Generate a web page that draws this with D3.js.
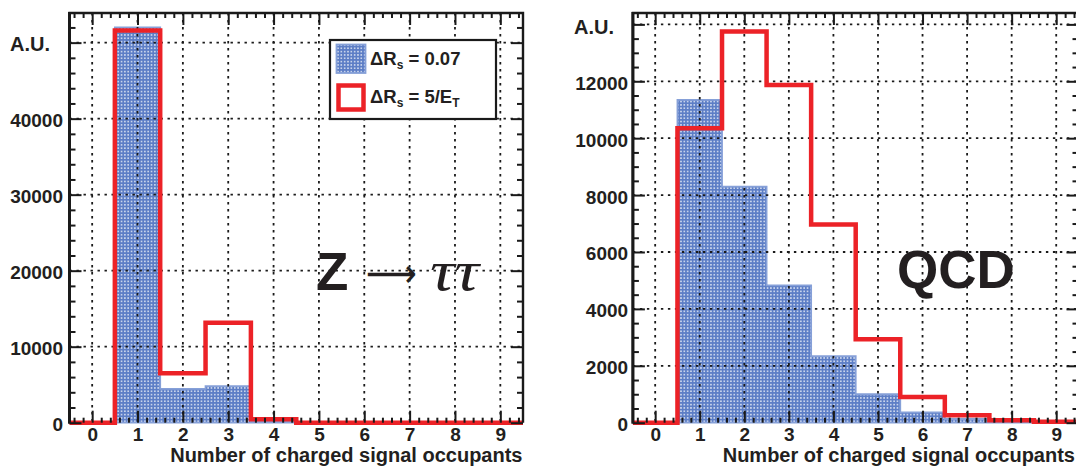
<!DOCTYPE html>
<html>
<head>
<meta charset="utf-8">
<script src="https://cdn.jsdelivr.net/npm/d3@7"></script>
<style>
  html, body { margin: 0; padding: 0; background: #fff; }
  svg { display: block; }
  text { font-family: "Liberation Sans", Arial, Helvetica, sans-serif; font-weight: bold; fill: #231f20; }
</style>
</head>
<body>
<svg id="chart" width="1076" height="466"></svg>
<script>
// Bin centres: number of charged signal-cone occupants
const occupancy = [0, 1, 2, 3, 4, 5, 6, 7, 8, 9];

// Z -> tautau sample (arbitrary units)
const zttFixedCone     = [0, 52000, 4450, 4800, 100, 0, 0, 0, 0, 0];
const zttShrinkingCone = [0, 51600, 6500, 13150, 450, 0, 0, 0, 0, 0];

// QCD sample (arbitrary units)
const qcdFixedCone     = [0, 11350, 8300, 4830, 2340, 1000, 360, 130, 15, 0];
const qcdShrinkingCone = [0, 10350, 13750, 11870, 6970, 2930, 900, 260, 85, 30];

// Axis ticks
const zttYMajor = [0, 10000, 20000, 30000, 40000, 50000];
const qcdYMajor = [0, 2000, 4000, 6000, 8000, 10000, 12000, 14000];
const xMajor = occupancy;

const legendLabels = ["0.07", "5/E"];
const xTitle = "Number of charged signal occupants";
const yTitle = "A.U.";

const RED = "#ec2227";
const BLUE_EDGE = "#86a0d8";
const BLUE_BASE = "#5d7ec6";
const INK = "#1a1a1a";

const svg = d3.select("#chart");

// Dotted fill used for the fixed-cone histogram
const defs = svg.append("defs");
const pat = defs.append("pattern")
  .attr("id", "dots")
  .attr("patternUnits", "userSpaceOnUse")
  .attr("width", 3.33).attr("height", 3.33);
pat.append("rect").attr("width", 3.33).attr("height", 3.33).attr("fill", BLUE_BASE);
pat.append("rect").attr("x", 1).attr("y", 1).attr("width", 1.35).attr("height", 1.35).attr("fill", "#ffffff");

function range(a, b, step) {
  const out = [];
  for (let v = a; v <= b + 1e-9; v += step) out.push(+v.toFixed(6));
  return out;
}

function drawPanel(opt) {
  const g = svg.append("g");
  const x = d3.scaleLinear().domain([-0.5, 9.5]).range([opt.x0, opt.x1]);
  const y = d3.scaleLinear().domain([0, opt.yMax]).range([opt.yZero, opt.yTop]);

  const clipId = "clip" + opt.id;
  defs.append("clipPath").attr("id", clipId)
    .append("rect").attr("x", opt.x0).attr("y", opt.yTop)
    .attr("width", opt.x1 - opt.x0).attr("height", opt.yZero - opt.yTop + 4);

  const steps = vals => occupancy.flatMap((b, i) => [[b - 0.5, vals[i]], [b + 0.5, vals[i]]]);

  // Fixed-cone histogram (filled)
  g.append("path")
    .datum(steps(opt.blue))
    .attr("clip-path", `url(#${clipId})`)
    .attr("d", d3.area().x(d => x(d[0])).y0(y(0)).y1(d => y(d[1])))
    .attr("fill", "url(#dots)")
    .attr("stroke", BLUE_EDGE).attr("stroke-width", 1.8);

  // Dotted grid
  const grid = g.append("g").attr("stroke", INK).attr("stroke-width", 1.8)
    .attr("stroke-dasharray", "2.4,4.6");
  grid.selectAll("line.v").data(xMajor).join("line").attr("class", "v")
    .attr("x1", d => x(d)).attr("x2", d => x(d))
    .attr("y1", opt.yTop).attr("y2", opt.yZero);
  grid.selectAll("line.h").data(opt.yMajor.filter(v => v > 0)).join("line").attr("class", "h")
    .attr("x1", opt.x0).attr("x2", opt.x1)
    .attr("y1", d => y(d)).attr("y2", d => y(d));

  // Shrinking-cone histogram (outline)
  g.append("path")
    .datum(steps(opt.red))
    .attr("d", d3.line().x(d => x(d[0])).y(d => y(d[1])))
    .attr("fill", "none").attr("stroke", RED).attr("stroke-width", 4.5)
    .attr("stroke-linejoin", "miter");

  const yMinor = range(0, opt.yMax, opt.yMinorStep).filter(v => !opt.yMajor.includes(v));
  const xMinor = range(-0.4, 9.4, 0.2).filter(v => Math.abs(v - Math.round(v)) > 1e-6);

  const styleAxis = sel => {
    sel.select(".domain").remove();
    sel.selectAll(".tick line").attr("stroke", INK).attr("stroke-width", 2);
    sel.attr("font-family", null).attr("font-size", null);
  };

  // Left axis
  g.append("g").attr("transform", `translate(${opt.x0},0)`)
    .call(d3.axisLeft(y).tickValues(yMinor).tickSize(-6).tickFormat(""))
    .call(styleAxis);
  const yl = g.append("g").attr("transform", `translate(${opt.x0},0)`)
    .call(d3.axisLeft(y).tickValues(opt.yMajor).tickSize(-12).tickPadding(opt.labelPad)
      .tickFormat(v => v === opt.yMajor[opt.yMajor.length - 1] ? "" : d3.format("d")(v)))
    .call(styleAxis);
  yl.selectAll(".tick text").attr("dy", 8).style("font-size", "19px").attr("fill", "#231f20");

  // Right axis
  g.append("g").attr("transform", `translate(${opt.x1},0)`)
    .call(d3.axisRight(y).tickValues(yMinor).tickSize(-6).tickFormat(""))
    .call(styleAxis);
  g.append("g").attr("transform", `translate(${opt.x1},0)`)
    .call(d3.axisRight(y).tickValues(opt.yMajor).tickSize(-12).tickFormat(""))
    .call(styleAxis);

  // Top axis
  g.append("g").attr("transform", `translate(0,${opt.yTop})`)
    .call(d3.axisTop(x).tickValues(xMinor).tickSize(-5).tickFormat(""))
    .call(styleAxis);
  g.append("g").attr("transform", `translate(0,${opt.yTop})`)
    .call(d3.axisTop(x).tickValues(xMajor).tickSize(-12).tickFormat(""))
    .call(styleAxis);

  // Bottom axis
  g.append("g").attr("transform", `translate(0,${opt.yZero})`)
    .call(d3.axisBottom(x).tickValues(xMinor).tickSize(-5).tickFormat(""))
    .call(styleAxis);
  const xb = g.append("g").attr("transform", `translate(0,${opt.yZero})`)
    .call(d3.axisBottom(x).tickValues(xMajor).tickSize(-12).tickFormat(d3.format("d")))
    .call(styleAxis);
  xb.selectAll(".tick text").attr("y", 18.5).attr("dy", 0).style("font-size", "19px").attr("fill", "#231f20");

  // Frame (right edge may fall outside the drawing)
  g.append("path")
    .attr("d", `M${opt.x0},${opt.yZero}V${opt.yTop}H${opt.x1}V${opt.yZero}`)
    .attr("fill", "none").attr("stroke", INK).attr("stroke-width", 2.4);
  g.append("line").attr("x1", opt.x0).attr("x2", opt.x0)
    .attr("y1", opt.yTop - 1).attr("y2", opt.yZero + 1)
    .attr("stroke", INK).attr("stroke-width", 3);

  // Axis titles
  g.append("text").attr("x", opt.auX).attr("y", opt.auY)
    .style("font-size", "20px").text(yTitle);
  g.append("text").attr("x", opt.titleEnd).attr("y", 461.5)
    .attr("text-anchor", "end").style("font-size", "20px").text(xTitle);

  return { g, x, y };
}

const left = drawPanel({
  id: "ztt", x0: 69.5, x1: 523, yTop: 13, yZero: 422.7, yMax: 53900,
  yMajor: zttYMajor, yMinorStep: 2000,
  blue: zttFixedCone, red: zttShrinkingCone,
  labelPad: 6.5, auX: 10, auY: 51, titleEnd: 522.5
});

const right = drawPanel({
  id: "qcd", x0: 632.9, x1: 1078.5, yTop: 13, yZero: 422.7, yMax: 14400,
  yMajor: qcdYMajor, yMinorStep: 500,
  blue: qcdFixedCone, red: qcdShrinkingCone,
  labelPad: 4.8, auX: 574, auY: 33.5, titleEnd: 1075
});

// Legend (left panel)
const lg = left.g.append("g");
lg.append("rect").attr("x", 330).attr("y", 40).attr("width", 166).attr("height", 79)
  .attr("fill", "#fff").attr("stroke", INK).attr("stroke-width", 2.2);
lg.append("rect").attr("x", 336.5).attr("y", 44.5).attr("width", 29).attr("height", 28.5)
  .attr("fill", "url(#dots)").attr("stroke", BLUE_EDGE).attr("stroke-width", 1.8);
lg.append("rect").attr("x", 338.5).attr("y", 85.5).attr("width", 25).attr("height", 24)
  .attr("fill", "#fff").attr("stroke", RED).attr("stroke-width", 4.5);

const t1 = lg.append("text").attr("x", 370).attr("y", 65).style("font-size", "18.5px");
t1.append("tspan").text("\u0394R");
t1.append("tspan").attr("dy", 4).style("font-size", "12px").text("s");
t1.append("tspan").attr("dy", -4).text(" = " + legendLabels[0]);

const t2 = lg.append("text").attr("x", 370).attr("y", 102.7).style("font-size", "18.5px");
t2.append("tspan").text("\u0394R");
t2.append("tspan").attr("dy", 4).style("font-size", "12px").text("s");
t2.append("tspan").attr("dy", -4).text(" = " + legendLabels[1]);
t2.append("tspan").attr("dy", 4).style("font-size", "12px").text("T");

// Process labels
const zl = left.g.append("g");
zl.append("text").attr("x", 316).attr("y", 290).style("font-size", "53px").attr("fill", "#111").text("Z");
zl.append("text").attr("x", 366).attr("y", 287)
  .style("font-family", "'DejaVu Sans', sans-serif").style("font-weight", "normal")
  .style("font-size", "40px").attr("textLength", 51).attr("lengthAdjust", "spacingAndGlyphs")
  .attr("fill", "#111").text("\u27F6");
zl.append("text").attr("x", 430).attr("y", 290)
  .style("font-family", "'Liberation Serif', 'Times New Roman', serif").style("font-weight", "normal")
  .style("font-style", "italic")
  .style("font-size", "58px").attr("textLength", 49).attr("lengthAdjust", "spacingAndGlyphs")
  .attr("fill", "#111").text("\u03C4\u03C4");

right.g.append("text").attr("x", 897).attr("y", 287.5).style("font-size", "53px")
  .attr("fill", "#111").text("QCD");
</script>
</body>
</html>
